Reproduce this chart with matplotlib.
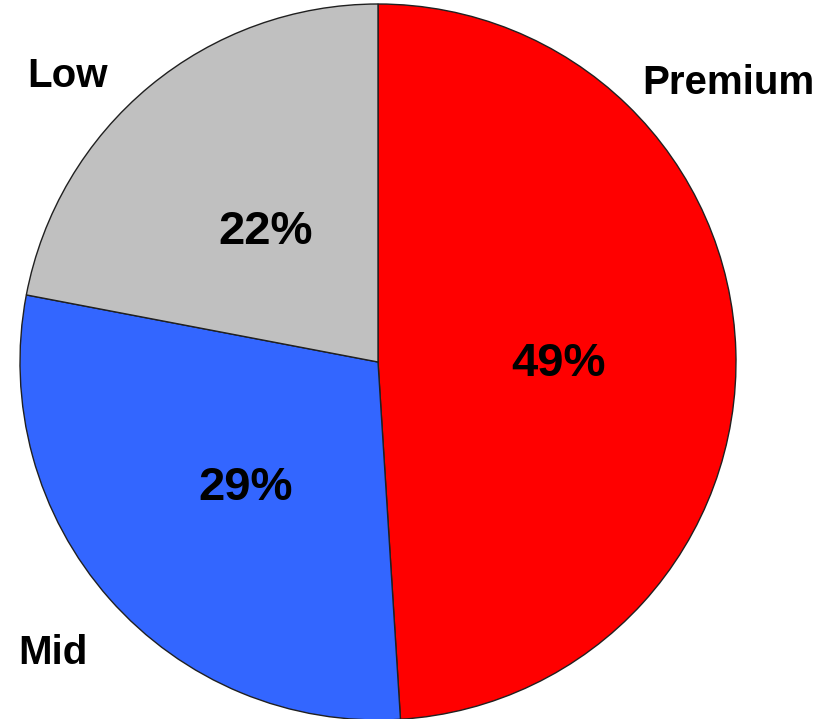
import matplotlib
matplotlib.use("Agg")
import matplotlib.pyplot as plt

categories = ["Premium", "Mid", "Low"]
shares = [49, 29, 22]
colors = ["#FF0000", "#3366FF", "#C0C0C0"]

W, H, DPI = 832, 719, 100
cx, cy, R = 378, 362, 358  # pixel centre and radius

fig = plt.figure(figsize=(W / DPI, H / DPI), dpi=DPI)
ax = fig.add_axes([0, 0, 1, 1])

wedges, texts, autotexts = ax.pie(
    shares, colors=colors, startangle=90, counterclock=False,
    autopct="%d%%", pctdistance=0.5,
    wedgeprops=dict(edgecolor="#202020", linewidth=1.0),
    textprops=dict(family="Liberation Sans", fontweight="bold", fontsize=34),
)
ax.set_xlim(-cx / R, (W - cx) / R)
ax.set_ylim(-(H - cy) / R, cy / R)
ax.set_aspect("auto")
ax.axis("off")

# nudge percentage labels slightly down to match reference
for t in autotexts:
    x, y = t.get_position()
    t.set_position((x + 2 / R, y - 8 / R))

def px(x, y):
    return (x - cx) / R, (cy - y) / R

label_pos = {"Premium": (728, 83), "Low": (68, 76), "Mid": (53, 653)}
for name in categories:
    x, y = px(*label_pos[name])
    ax.text(x, y, name, ha="center", va="center", fontsize=29,
            fontweight="bold", family="Liberation Sans", color="black")

fig.savefig("out.png", dpi=DPI)
